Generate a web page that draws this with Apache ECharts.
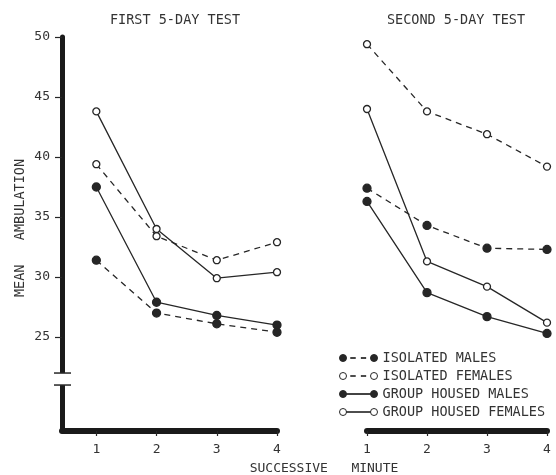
<!DOCTYPE html>
<html>
<head>
<meta charset="utf-8">
<script src="https://cdn.jsdelivr.net/npm/echarts@6/dist/echarts.min.js"></script>
<style>
  html, body { margin: 0; padding: 0; background: #fff; }
  #chart { width: 556px; height: 475px; }
</style>
</head>
<body>
<div id="chart"></div>
<script>
// successive minute of the test
const minutes = [1, 2, 3, 4]
const yTicks = [25, 30, 35, 40, 45, 50]
const seriesNames = ['ISOLATED MALES', 'ISOLATED FEMALES', 'GROUP HOUSED MALES', 'GROUP HOUSED FEMALES']

// first 5-day test
const isoMales1 = [31.4, 27.0, 26.1, 25.4]
const isoFemales1 = [39.4, 33.4, 31.4, 32.9]
const grpMales1 = [37.5, 27.9, 26.8, 26.0]
const grpFemales1 = [43.8, 34.0, 29.9, 30.4]

// second 5-day test
const isoMales2 = [37.4, 34.3, 32.4, 32.3]
const isoFemales2 = [49.4, 43.8, 41.9, 39.2]
const grpMales2 = [36.3, 28.7, 26.7, 25.3]
const grpFemales2 = [44.0, 31.3, 29.2, 26.2]

const ink = '#262626'
const font = 'DejaVu Sans Mono'

const toPoints = (arr) => minutes.map((m, i) => [m, arr[i]])

// filled or open circle, dashed or solid line
const makeSeries = (name, values, grid, open, dashed) => ({
  name: name,
  type: 'line',
  xAxisIndex: grid,
  yAxisIndex: grid,
  data: toPoints(values),
  symbol: 'circle',
  symbolSize: open ? 7 : 8,
  clip: false,
  z: open ? 4 : 3,
  lineStyle: { color: ink, width: 1.3, type: dashed ? [6, 5] : 'solid' },
  itemStyle: {
    color: open ? '#fff' : ink,
    borderColor: ink,
    borderWidth: 1.3
  }
})

// legend icons: circle - line - circle (38 x 7 box)
const circles = 'M0,3.5A3.5,3.5,0,1,1,7,3.5A3.5,3.5,0,1,1,0,3.5Z M31,3.5A3.5,3.5,0,1,1,38,3.5A3.5,3.5,0,1,1,31,3.5Z'
const dashedIcon = 'path://' + circles + ' M11,3.25H16V3.75H11Z M21.5,3.25H26.5V3.75H21.5Z'
const solidIcon = 'path://' + circles + ' M7,3.25H31V3.75H7Z'

const axisText = { color: '#333', fontFamily: font, fontSize: 13 }

const chart = echarts.init(document.getElementById('chart'))

const option = {
  animation: false,
  title: [
    { text: 'FIRST 5-DAY TEST', left: 170, top: 8, textAlign: 'center',
      textStyle: { color: '#333', fontFamily: font, fontSize: 13.5, fontWeight: 'normal' } },
    { text: 'SECOND 5-DAY TEST', left: 451, top: 8, textAlign: 'center',
      textStyle: { color: '#333', fontFamily: font, fontSize: 13.5, fontWeight: 'normal' } },
    { text: 'SUCCESSIVE   MINUTE', left: 319, top: 457, textAlign: 'center',
      textStyle: { color: '#333', fontFamily: font, fontSize: 13, fontWeight: 'normal' } }
  ],
  legend: {
    orient: 'vertical',
    left: 334,
    top: 346,
    itemWidth: 38,
    itemHeight: 7,
    itemGap: 4,
    itemStyle: { borderWidth: 1 },
    textStyle: { color: '#333', fontFamily: font, fontSize: 13.5, lineHeight: 14 },
    data: [
      { name: seriesNames[0], icon: dashedIcon },
      { name: seriesNames[1], icon: dashedIcon },
      { name: seriesNames[2], icon: solidIcon },
      { name: seriesNames[3], icon: solidIcon }
    ]
  },
  grid: [
    { left: 62, top: 37, width: 215, height: 394 },
    { left: 367, top: 37, width: 180, height: 394 }
  ],
  xAxis: [0, 1].map(i => ({
    type: 'value',
    gridIndex: i,
    min: i === 0 ? 0.43 : 1,
    max: 4,
    splitLine: { show: false },
    axisLine: { onZero: false, lineStyle: { color: '#1a1a1a', width: 6 } },
    axisTick: { customValues: minutes, length: 5, lineStyle: { color: ink, width: 1.2 } },
    axisLabel: { customValues: minutes, margin: 12, ...axisText }
  })),
  yAxis: [
    {
      type: 'value',
      gridIndex: 0,
      min: 17.17,
      max: 50,
      name: 'MEAN   AMBULATION',
      nameLocation: 'middle',
      nameGap: 35,
      nameRotate: 90,
      nameTextStyle: { color: '#333', fontFamily: font, fontSize: 13.5, padding: [0, 0, 0, 12] },
      splitLine: { show: false },
      axisLine: { show: true, onZero: false, lineStyle: { color: '#1a1a1a', width: 5 } },
      axisTick: { customValues: yTicks, length: 7, lineStyle: { color: ink, width: 1.2 } },
      axisLabel: { customValues: yTicks, margin: 12, ...axisText }
    },
    { type: 'value', gridIndex: 1, min: 17.17, max: 50, show: false, splitLine: { show: false } }
  ],
  series: [
    makeSeries(seriesNames[0], isoMales1, 0, false, true),
    makeSeries(seriesNames[1], isoFemales1, 0, true, true),
    makeSeries(seriesNames[2], grpMales1, 0, false, false),
    makeSeries(seriesNames[3], grpFemales1, 0, true, false),
    makeSeries(seriesNames[0], isoMales2, 1, false, true),
    makeSeries(seriesNames[1], isoFemales2, 1, true, true),
    makeSeries(seriesNames[2], grpMales2, 1, false, false),
    makeSeries(seriesNames[3], grpFemales2, 1, true, false)
  ]
}

chart.setOption(option)

// break in the y axis between 22 and 21
const breakTop = chart.convertToPixel({ gridIndex: 0 }, [0.43, 22])
const breakBot = chart.convertToPixel({ gridIndex: 0 }, [0.43, 21])
chart.setOption({
  graphic: [
    { type: 'rect', shape: { x: breakTop[0] - 8, y: breakTop[1], width: 16, height: breakBot[1] - breakTop[1] },
      style: { fill: '#fff' }, z: 100 },
    { type: 'line', shape: { x1: breakTop[0] - 8, y1: breakTop[1], x2: breakTop[0] + 9, y2: breakTop[1] },
      style: { stroke: ink, lineWidth: 1.5 }, z: 101 },
    { type: 'line', shape: { x1: breakBot[0] - 8, y1: breakBot[1], x2: breakBot[0] + 9, y2: breakBot[1] },
      style: { stroke: ink, lineWidth: 1.5 }, z: 101 }
  ]
})

window.addEventListener('resize', () => {
  chart.resize()
})
</script>
</body>
</html>
